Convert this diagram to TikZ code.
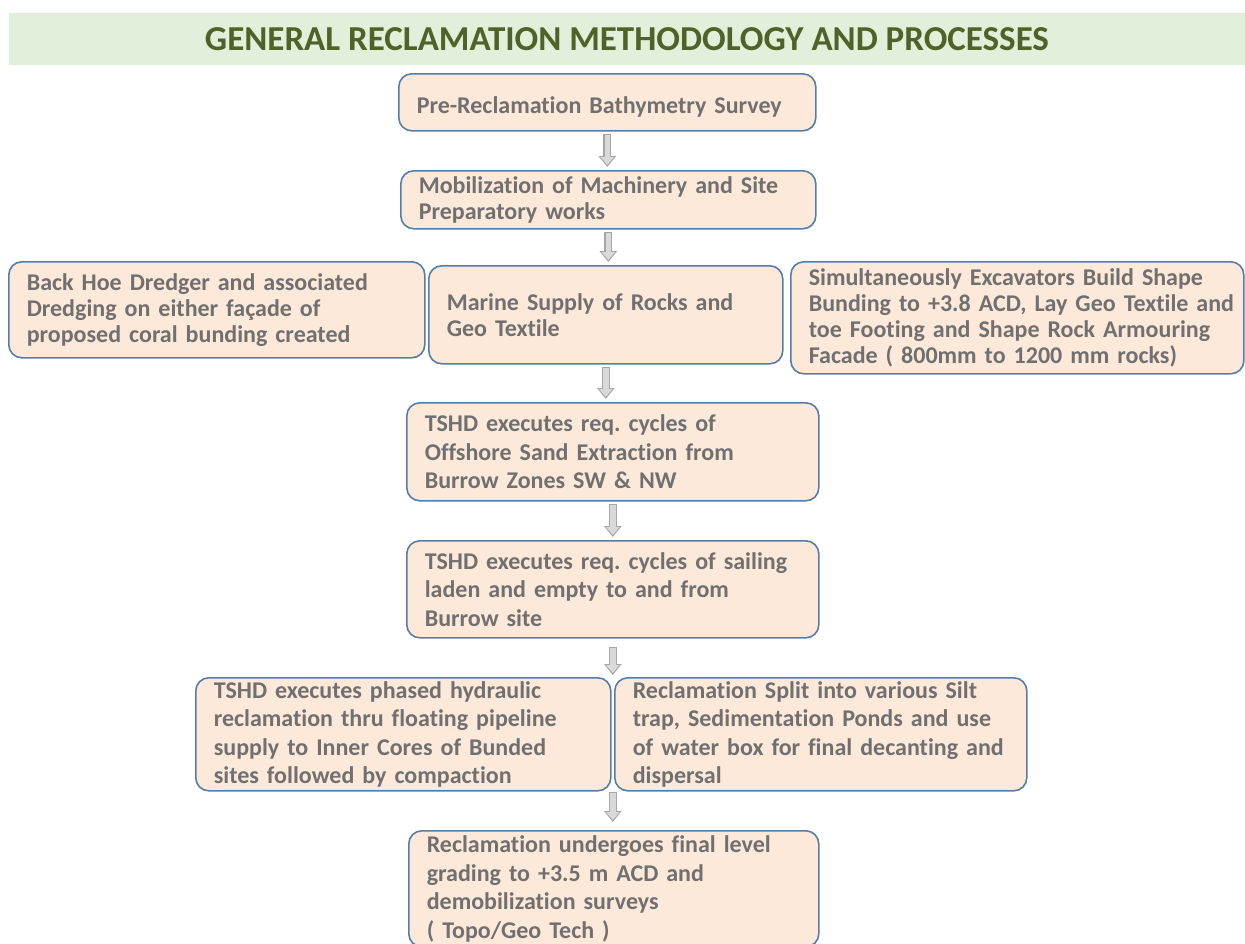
\documentclass[tikz,border=0pt]{standalone}
\usepackage{fontspec}
\setmainfont{Carlito}[Ligatures=NoCommon]
\frenchspacing
\usetikzlibrary{arrows.meta,calc,positioning}
\definecolor{bandcolor}{RGB}{226,239,218}
\definecolor{titlegreen}{RGB}{79,98,40}
\definecolor{boxfill}{RGB}{253,233,217}
\definecolor{boxborder}{RGB}{85,125,170}
\definecolor{boxtext}{RGB}{112,112,112}
\definecolor{arrowline}{RGB}{166,166,166}
\definecolor{arrowfill}{RGB}{217,217,217}
\tikzstyle{titleband}=[fill=bandcolor, minimum width=1236pt, minimum height=52pt, inner sep=0pt, text=titlegreen, font=\fontsize{35}{38}\selectfont\bfseries]
\tikzstyle{stepbox}=[draw=boxborder, fill=boxfill, rounded corners=13pt, line width=1.6pt, anchor=north west, align=left, inner xsep=18pt, inner ysep=0pt, text=boxtext, font=\fontsize{24}{28.5}\selectfont\bfseries]
\tikzstyle{tightbox}=[stepbox, font=\fontsize{24}{26}\selectfont\bfseries]
\tikzset{flowedge/.style 2 args={draw=arrowline, line width=8pt, -{Triangle[length=11pt,width=17pt]}, shorten <=#1, shorten >=#2,
  postaction={draw=arrowfill, line width=5.4pt, -{Triangle[length=8pt,width=13pt]}, shorten <=#1+1.3pt, shorten >=#2+2pt}}}

\begin{document}
\begin{tikzpicture}[x=1pt,y=-1pt]
\useasboundingbox (0,0) rectangle (1245,943);

	% Title
    \node[titleband] (title) at (627,39) {GENERAL RECLAMATION METHODOLOGY AND PROCESSES};

	% Survey and mobilization
    \node[stepbox, text width=381pt, minimum height=57pt, text height=23pt, text depth=0pt] (b1) at (398,73) {Pre-Reclamation Bathymetry Survey};
    \node[tightbox, text width=379pt, minimum height=58pt] (b2) at (400,170) {Mobilization of Machinery and Site\\Preparatory works};

	% Bunding row
    \node[tightbox, text width=380pt, minimum height=96pt] (b3l) at (8,261) {Back Hoe Dredger and associated\\Dredging on either façade of\\proposed coral bunding created};
    \node[tightbox, text width=318pt, minimum height=98pt] (b3m) at (428,265) {Marine Supply of Rocks and\\Geo Textile};
    \node[tightbox, text width=417pt, minimum height=112pt] (b3r) at (790,261) {Simultaneously Excavators Build Shape\\\mbox{Bunding to +3.8 ACD, Lay Geo Textile and}\\toe Footing and Shape Rock Armouring\\Facade ( 800mm to 1200 mm rocks)};

	% Sand extraction and sailing
    \node[stepbox, text width=376pt, minimum height=98pt] (b4) at (406,402) {TSHD executes req. cycles of\\Offshore Sand Extraction from\\Burrow Zones SW \& NW};
    \node[stepbox, text width=376pt, minimum height=97pt] (b5) at (406,540) {TSHD executes req. cycles of sailing\\laden and empty to and from\\Burrow site};

	% Reclamation row
    \node[stepbox, text width=379pt, minimum height=113pt] (b6l) at (195,677) {TSHD executes phased hydraulic\\reclamation thru floating pipeline\\supply to Inner Cores of Bunded\\sites followed by compaction};
    \node[stepbox, text width=376pt, minimum height=113pt] (b6r) at (614,677) {Reclamation Split into various Silt\\trap, Sedimentation Ponds and use\\of water box for final decanting and\\dispersal};

	% Final grading
    \node[stepbox, text width=374pt, minimum height=116pt] (b7) at (408,830) {Reclamation undergoes final level\\grading to +3.5 m ACD and\\demobilization surveys\\( Topo/Geo Tech )};

	% Arrows
    \foreach \src / \dst in {b1/b2, b2/b3m, b3m/b4, b4/b5}
        \draw[flowedge={2pt}{3pt}] (\src.south) -- (\src.south |- \dst.north);

    \coordinate (splittop) at ($(b6l.north east)!0.5!(b6r.north west)$);
    \coordinate (splitbot) at ($(b6l.south east)!0.5!(b6r.south west)$);
    \draw[flowedge={8pt}{2pt}] (b5.south -| splittop) -- (splittop);
    \draw[flowedge={0pt}{8pt}] (splitbot) -- (splitbot |- b7.north);

\end{tikzpicture}
\end{document}
